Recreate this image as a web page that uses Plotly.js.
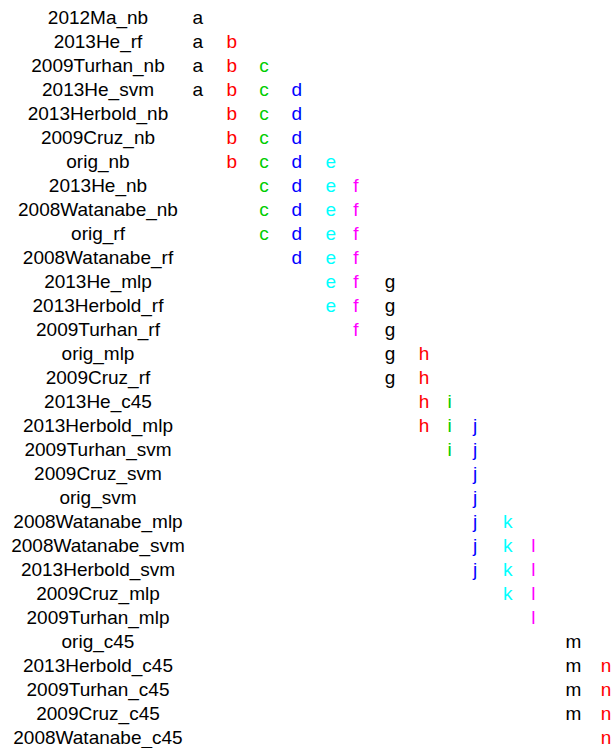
<!DOCTYPE html>
<html>
<head>
<meta charset="utf-8">
<script src="https://cdn.plot.ly/plotly-3.0.1.min.js"></script>
<style>html,body{margin:0;padding:0;background:#fff;}#chart{width:613px;height:748px;}</style>
</head>
<body>
<div id="chart"></div>
<script>
// ---- data ----
const rowLabels = [
  '2012Ma_nb','2013He_rf','2009Turhan_nb','2013He_svm','2013Herbold_nb','2009Cruz_nb','orig_nb',
  '2013He_nb','2008Watanabe_nb','orig_rf','2008Watanabe_rf','2013He_mlp','2013Herbold_rf',
  '2009Turhan_rf','orig_mlp','2009Cruz_rf','2013He_c45','2013Herbold_mlp','2009Turhan_svm',
  '2009Cruz_svm','orig_svm','2008Watanabe_mlp','2008Watanabe_svm','2013Herbold_svm',
  '2009Cruz_mlp','2009Turhan_mlp','orig_c45','2013Herbold_c45','2009Turhan_c45','2009Cruz_c45',
  '2008Watanabe_c45'
];
const groupLetters = [
  'a','ab','abc','abcd','bcd','bcd','bcde',
  'cdef','cdef','cdef','def','efg','efg',
  'fg','gh','gh','hi','hij','ij',
  'j','j','jk','jkl','jkl',
  'kl','l','m','mn','mn','mn',
  'n'
];
const letters = ['a','b','c','d','e','f','g','h','i','j','k','l','m','n'];

// ---- layout / style (not data) ----
const letterColors = ['#000000','#FF0000','#00CD00','#0000FF','#00FFFF','#FF00FF',
                      '#000000','#FF0000','#00CD00','#0000FF','#00FFFF','#FF00FF',
                      '#000000','#FF0000'];
const letterColumnX = [197.7,231.7,264,296.7,330.7,356,390,424,449.7,475,507.7,533.3,573.3,606];
const labelColumnX = 98;
const fontFamily = 'Liberation Sans, Arial, Helvetica, sans-serif';
const fontSize = 19;

const traces = [];
traces.push({
  type: 'scatter', mode: 'text',
  x: rowLabels.map(() => labelColumnX),
  y: rowLabels,
  text: rowLabels,
  textposition: 'middle center',
  textfont: {family: fontFamily, size: fontSize, color: '#000000'},
  hoverinfo: 'skip', showlegend: false
});
letters.forEach((L, li) => {
  const ys = rowLabels.filter((r, ri) => groupLetters[ri].includes(L));
  traces.push({
    type: 'scatter', mode: 'text',
    x: ys.map(() => letterColumnX[li]),
    y: ys,
    text: ys.map(() => L),
    textposition: 'middle center',
    textfont: {family: fontFamily, size: fontSize, color: letterColors[li]},
    hoverinfo: 'skip', showlegend: false
  });
});

const n = rowLabels.length;
const layout = {
  width: 613, height: 748,
  margin: {l: 0, r: 0, t: 0, b: 0, pad: 0},
  paper_bgcolor: '#ffffff', plot_bgcolor: '#ffffff',
  showlegend: false,
  xaxis: {range: [0, 613], visible: false, fixedrange: true},
  yaxis: {type: 'category', categoryorder: 'array', categoryarray: rowLabels,
          range: [30.375, -0.7917], visible: false, fixedrange: true}
};
Plotly.newPlot('chart', traces, layout, {staticPlot: true, displayModeBar: false});
</script>
</body>
</html>
